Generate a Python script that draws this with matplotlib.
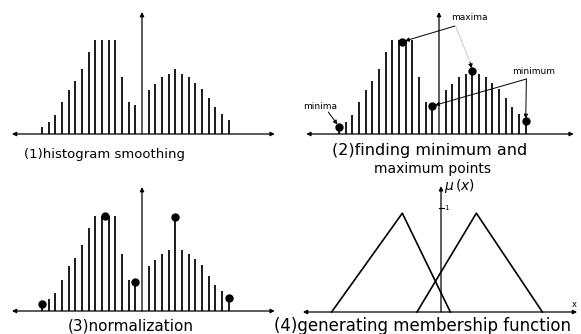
import numpy as np
import matplotlib.pyplot as plt

# smoothed histogram, bins 0..28 (the y axis stands on bin 15)
bins = np.arange(29)
hist = [6.7, 12, 19, 32, 44, 53, 65, 82, 94, 94, 94, 94, 57, 32, 29, 0,
        44, 50, 57, 60, 65, 60, 57, 51, 45, 36, 27, 20, 14]
# after normalization the right peak is pulled up to the height of the left one
norm = [7, 12, 18, 31, 45, 53, 66, 83, 95, 95, 95, 95, 57, 31, 29, 0,
        45, 51, 57, 61, 94, 61, 57, 52, 46, 35, 26, 20, 13]

# minimum / maximum points found in (2) and carried into (3)
ext_x = [0, 9.5, 14, 20, 28]
ext_y2 = [7.3, 92.3, 28, 63, 12.7]
ext_y3 = [7.3, 95, 29, 94, 13.3]

# triangular membership functions in (4)
mf_x = [[-1.4, 9.2, 16.4], [11.4, 20.3, 30.2]]
mf_y = [0, 0.95, 0]

AXIS_BIN = 15
W, H = 581, 334
fig = plt.figure(figsize=(W / 100, H / 100), dpi=100)


def panel(box, origin, dy=1.0, dx=6.67):
    # box and origin are in pixels measured from the top left corner
    l, t, r, b = box
    ox, oy = origin
    ax = fig.add_axes([l / W, 1 - b / H, (r - l) / W, (b - t) / H])
    ax.set_xlim(AXIS_BIN + (l - ox) / dx, AXIS_BIN + (r - ox) / dx)
    ax.set_ylim((oy - b) / dy, (oy - t) / dy)
    ax.axis('off')
    return ax


def arrows(ax, x0, x1, ytop):
    ap = dict(arrowstyle='<|-|>', lw=0.9, color='k', mutation_scale=6,
              shrinkA=0, shrinkB=0)
    ax.annotate('', xy=(x1, 0), xytext=(x0, 0), arrowprops=ap)
    ap = dict(ap, arrowstyle='-|>')
    ax.annotate('', xy=(AXIS_BIN, ytop), xytext=(AXIS_BIN, 0), arrowprops=ap)


def pointer(ax, src, dst, **kw):
    ap = dict(arrowstyle='-|>', lw=0.7, color='k', mutation_scale=6,
              shrinkA=0, shrinkB=2)
    ap.update(kw)
    ax.annotate('', xy=dst, xytext=src, arrowprops=ap)


bar_kw = dict(color='#1a1a1a', lw=1.4)
dot_kw = dict(ls='none', marker='o', ms=5, color='k')

# (1) histogram smoothing
ax1 = panel((0, 0, 290, 165), (142, 134))
ax1.vlines(bins, 0, hist, **bar_kw)
arrows(ax1, -4.5, 34.9, 122)

# (2) finding minimum and maximum points
ax2 = panel((290, 0, 581, 165), (439, 134))
ax2.vlines(bins, 0, hist, **bar_kw)
ax2.plot(ext_x, ext_y2, **dot_kw)
arrows(ax2, -4.9, 35.2, 122)
ax2.text(16.75, 117, 'maxima', fontsize=6.5, va='center', ha='left')
pointer(ax2, (17.4, 108), (ext_x[1], ext_y2[1]))
pointer(ax2, (17.6, 106), (19.65, 72), arrowstyle='-', color='#aaaaaa', ls=':')
pointer(ax2, (19.65, 72), (ext_x[3], ext_y2[3]))
ax2.text(25.9, 63, 'minimum', fontsize=6.5, va='center', ha='left')
pointer(ax2, (28.1, 55), (ext_x[2], ext_y2[2]))
pointer(ax2, (28.1, 55), (ext_x[4], ext_y2[4]))
ax2.text(-5.4, 27.5, 'minima', fontsize=6.5, va='center', ha='left')
pointer(ax2, (-1.6, 22), (ext_x[0], ext_y2[0]))

# (3) normalization
ax3 = panel((0, 165, 290, 334), (142, 311))
ax3.vlines(bins, 0, norm, **bar_kw)
ax3.plot(ext_x, ext_y3, **dot_kw)
arrows(ax3, -4.5, 34.9, 124)

# (4) generating membership function
ax4 = panel((290, 165, 581, 334), (441, 312), dy=104)
for xs in mf_x:
    ax4.plot(xs, mf_y, color='k', lw=1.2)
arrows(ax4, -5.7, 35.4, 1.21)
ax4.plot([14.7, 15.4], [1, 1], color='k', lw=0.8)
ax4.text(15.5, 1.0, '1', fontsize=5, va='center', ha='left')
ax4.text(15.4, 1.21, r'$\mu\,(x)$', fontsize=10, va='center', ha='left')
ax4.text(35.0, 0.07, 'x', fontsize=6, va='center', ha='center')

# panel captions
fig.text(105 / W, 1 - 155 / H, '(1)histogram smoothing', fontsize=9.5,
         ha='center', va='center')
fig.text(430 / W, 1 - 150 / H, '(2)finding minimum and', fontsize=11.5,
         ha='center', va='center')
fig.text(432 / W, 1 - 169 / H, 'maximum points', fontsize=10,
         ha='center', va='center')
fig.text(131 / W, 1 - 326 / H, '(3)normalization', fontsize=11,
         ha='center', va='center')
fig.text(423 / W, 1 - 326 / H, '(4)generating membership function',
         fontsize=12, ha='center', va='center')

fig.savefig('out.png', dpi=100)
